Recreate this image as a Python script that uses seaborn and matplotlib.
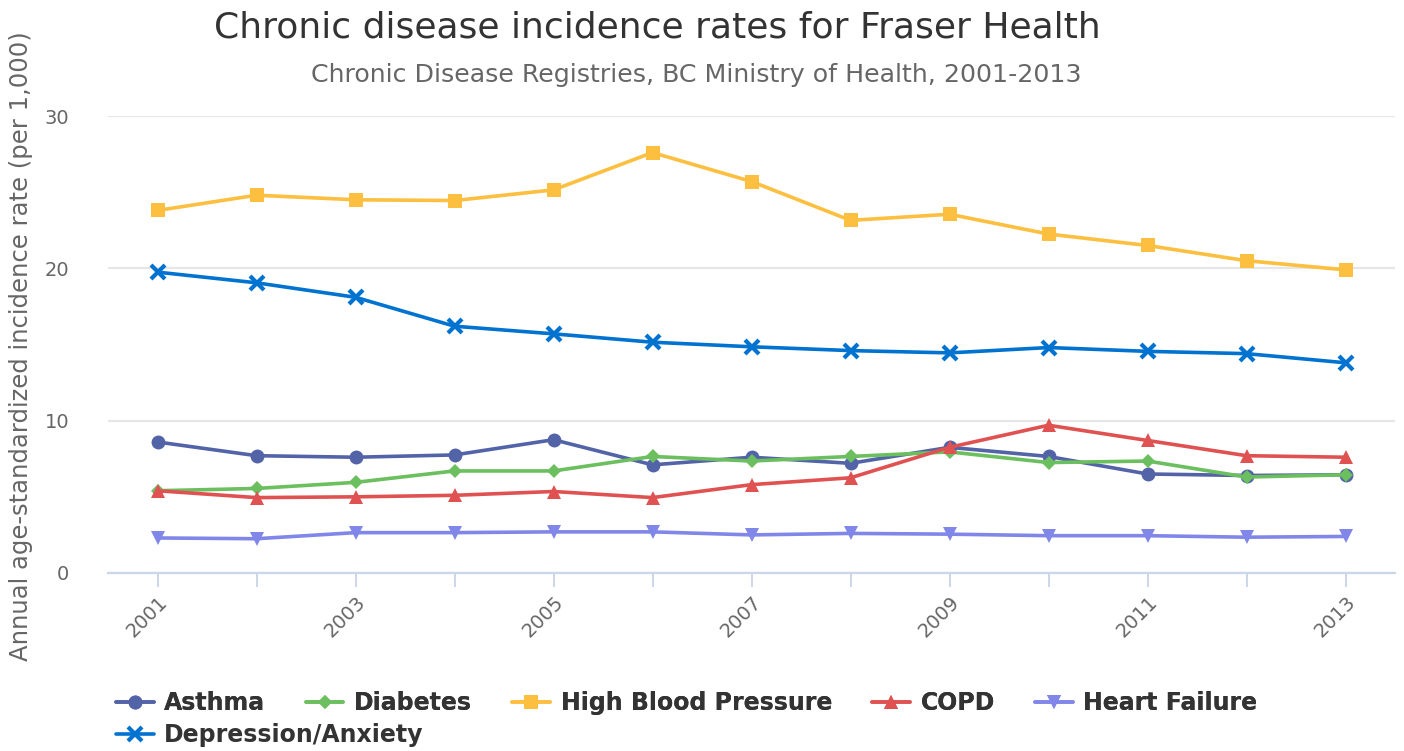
import matplotlib
matplotlib.use("Agg")
import matplotlib.pyplot as plt
from matplotlib.lines import Line2D
import pandas as pd
import seaborn as sns

years = list(range(2001, 2014))
asthma = [8.6, 7.7, 7.6, 7.75, 8.75, 7.1, 7.6, 7.2, 8.25, 7.65, 6.5, 6.4, 6.45]
diabetes = [5.4, 5.55, 5.95, 6.7, 6.7, 7.65, 7.35, 7.65, 7.95, 7.25, 7.35, 6.3, 6.45]
hbp = [23.8, 24.8, 24.5, 24.45, 25.15, 27.6, 25.7, 23.15, 23.55, 22.25, 21.5, 20.5, 19.9]
copd = [5.4, 4.95, 5.0, 5.1, 5.35, 4.95, 5.8, 6.25, 8.25, 9.7, 8.7, 7.7, 7.6]
heart_failure = [2.3, 2.25, 2.65, 2.65, 2.7, 2.7, 2.5, 2.6, 2.55, 2.45, 2.45, 2.35, 2.4]
depression = [19.75, 19.05, 18.1, 16.2, 15.7, 15.15, 14.85, 14.6, 14.45, 14.8, 14.55, 14.4, 13.8]

series_names = ["Asthma", "Diabetes", "High Blood Pressure", "COPD",
                "Heart Failure", "Depression/Anxiety"]
series_values = [asthma, diabetes, hbp, copd, heart_failure, depression]
colors = ["#5363a8", "#6cbf5e", "#fcbf3f", "#e05252", "#8087e8", "#0072d0"]
markers = ["o", "D", "s", "^", "v", "x"]
msizes = [10, 7.5, 10, 10, 10, 10]

df = pd.DataFrame({
    "year": years * len(series_names),
    "rate": [v for vals in series_values for v in vals],
    "disease": [n for n in series_names for _ in years],
})

sns.set_style("white")
plt.rcParams["font.family"] = ["DejaVu Sans"]

fig = plt.figure(figsize=(14.04, 7.51), dpi=100)
ax = fig.add_axes([108 / 1404, 1 - 573 / 751, (1395 - 108) / 1404, (573 - 116) / 751])

handles = []
for name, col, mk, ms in zip(series_names, colors, markers, msizes):
    sub = df[df["disease"] == name]
    mew = 3 if mk == "x" else 0
    sns.lineplot(data=sub, x="year", y="rate", color=col, marker=mk, markersize=ms,
                 markeredgewidth=mew, markeredgecolor=col, linewidth=2.6, ax=ax,
                 clip_on=False, zorder=3)
    handles.append(Line2D([0], [0], color=col, marker=mk, markersize=ms,
                          markeredgewidth=mew, markeredgecolor=col, linewidth=2.6))

ax.set_xlim(2000.5, 2013.5)
ax.set_ylim(0, 30)
ax.set_yticks([0, 10, 20, 30])
ax.set_xticks(range(2001, 2014, 2))
ax.set_xticks(range(2001, 2014), minor=True)
ax.grid(axis="y", color="#e6e6e6", linewidth=1.6)
ax.set_axisbelow(True)
for s in ["top", "right", "left"]:
    ax.spines[s].set_visible(False)
ax.spines["bottom"].set_color("#ccd6eb")
ax.spines["bottom"].set_linewidth(1.6)
ax.tick_params(axis="x", which="both", direction="out", length=10, width=1.4,
               color="#ccd6eb", labelsize=14, labelcolor="#666666", pad=4, bottom=True)
ax.tick_params(axis="y", length=0, labelsize=14, labelcolor="#666666", pad=28)
for lbl in ax.get_xticklabels():
    lbl.set_rotation(45)
    lbl.set_ha("right")
    lbl.set_rotation_mode("anchor")
ax.set_xlabel("")
ax.set_ylabel("Annual age-standardized incidence rate (per 1,000)",
              fontsize=17.5, color="#666666")
ax.yaxis.set_label_coords(-0.058, 0.497)

fig.text(0.468, 0.963, "Chronic disease incidence rates for Fraser Health",
         ha="center", va="center", fontsize=26, color="#333333")
fig.text(0.496, 0.900, "Chronic Disease Registries, BC Ministry of Health, 2001-2013",
         ha="center", va="center", fontsize=18.2, color="#666666")

legend_font = {"weight": "bold", "size": 17}
leg1 = fig.legend(handles[:5], series_names[:5], ncol=5, loc="center left",
                  bbox_to_anchor=(0.0826, 0.064), frameon=False, handlelength=1.6,
                  columnspacing=1.7, handletextpad=0.45, borderaxespad=0,
                  borderpad=0, prop=legend_font)
for t in leg1.get_texts():
    t.set_color("#333333")
leg2 = fig.legend(handles[5:], series_names[5:], loc="center left",
                  bbox_to_anchor=(0.0826, 0.021), frameon=False, handlelength=1.6,
                  handletextpad=0.45, borderaxespad=0, borderpad=0, prop=legend_font)
for t in leg2.get_texts():
    t.set_color("#333333")
fig.add_artist(leg1)

fig.savefig("out.png", dpi=100)
